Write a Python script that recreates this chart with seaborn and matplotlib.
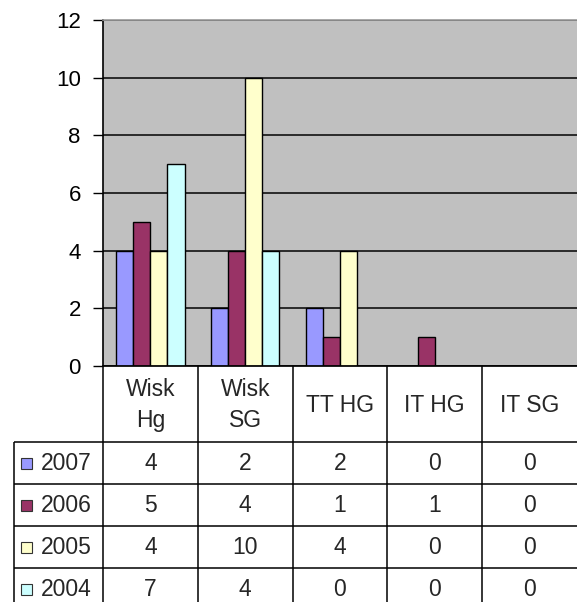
import matplotlib
matplotlib.use("Agg")
import matplotlib.pyplot as plt
from matplotlib.patches import Rectangle
import pandas as pd
import seaborn as sns

categories = ["Wisk Hg", "Wisk SG", "TT HG", "IT HG", "IT SG"]
header_labels = ["Wisk\nHg", "Wisk\nSG", "TT HG", "IT HG", "IT SG"]
years = ["2007", "2006", "2005", "2004"]
v2007 = [4, 2, 2, 0, 0]
v2006 = [5, 4, 1, 1, 0]
v2005 = [4, 10, 4, 0, 0]
v2004 = [7, 4, 0, 0, 0]
colors = ["#9999FF", "#993366", "#FFFFCC", "#CCFFFF"]

series = [v2007, v2006, v2005, v2004]
df = pd.DataFrame(
    [(c, y, v) for y, vals in zip(years, series) for c, v in zip(categories, vals)],
    columns=["category", "year", "value"],
)

sns.set_theme(style="white")
plt.rcParams['font.family'] = ['Liberation Sans', 'DejaVu Sans']

W, H = 577, 602
fig = plt.figure(figsize=(W / 100, H / 100), dpi=100)
ax_l, ax_r, ax_t, ax_b = 103, 577, 20, 366
ax = fig.add_axes([ax_l / W, 1 - ax_b / H, (ax_r - ax_l) / W, (ax_b - ax_t) / H])

sns.barplot(data=df, x="category", y="value", hue="year", order=categories,
            hue_order=years, palette=colors, width=0.72, gap=0,
            edgecolor="black", linewidth=1, saturation=1, ax=ax, legend=False)
for p in ax.patches:
    if p.get_height() == 0:
        p.set_visible(False)

ax.set_facecolor("#C0C0C0")
ax.set_xlim(-0.5, 4.5)
ax.set_ylim(0, 12)
ax.set_yticks(range(0, 13, 2))
ax.yaxis.grid(True, color="#111111", linewidth=1.2)
ax.set_axisbelow(True)
ax.set_xlabel("")
ax.set_ylabel("")
ax.set_xticks([])
ax.tick_params(axis="y", left=True, length=7, width=1, color="black",
               pad=9, labelsize=16, labelcolor="black")
ax.spines["left"].set_color("black")
ax.spines["left"].set_linewidth(1.2)
ax.spines["bottom"].set_color("black")
ax.spines["top"].set_color("#999999")
ax.spines["top"].set_linewidth(1.2)
ax.spines["right"].set_visible(False)

# data table underneath, drawn in pixel coordinates
tab = fig.add_axes([0, 0, 1, 1])
tab.set_xlim(0, W)
tab.set_ylim(H, 0)
tab.axis("off")

col_w = (ax_r - ax_l) / len(categories)
col_x = [ax_l + i * col_w for i in range(len(categories) + 1)]
head_top, head_bot = 366, 442
row_y = [442, 483.5, 525.5, 568, 610]
tab_left = 14
fs = 16.5
lc = dict(color="black", linewidth=1.1, solid_capstyle="butt")

# header row
for x in col_x[:-1]:
    tab.plot([x, x], [head_top, head_bot], **lc)
for i, lab in enumerate(header_labels):
    tab.text((col_x[i] + col_x[i + 1]) / 2, (head_top + head_bot) / 2 + 1, lab,
             ha="center", va="center", fontsize=fs, linespacing=1.45)

# body rows
for y in row_y[:-1]:
    tab.plot([tab_left, W], [y, y], **lc)
for x in [tab_left] + col_x[:-1]:
    tab.plot([x, x], [row_y[0], row_y[-1]], **lc)
for r, (yr, vals, c) in enumerate(zip(years, series, colors)):
    yc = (row_y[r] + row_y[r + 1]) / 2
    tab.add_patch(Rectangle((20.5, yc - 5), 11, 11, facecolor=c,
                            edgecolor="#333333", linewidth=0.8))
    tab.text(41, yc + 1, yr, ha="left", va="center", fontsize=fs)
    for i, v in enumerate(vals):
        tab.text((col_x[i] + col_x[i + 1]) / 2, yc + 1, str(v),
                 ha="center", va="center", fontsize=fs)

fig.savefig("out.png", dpi=100)
